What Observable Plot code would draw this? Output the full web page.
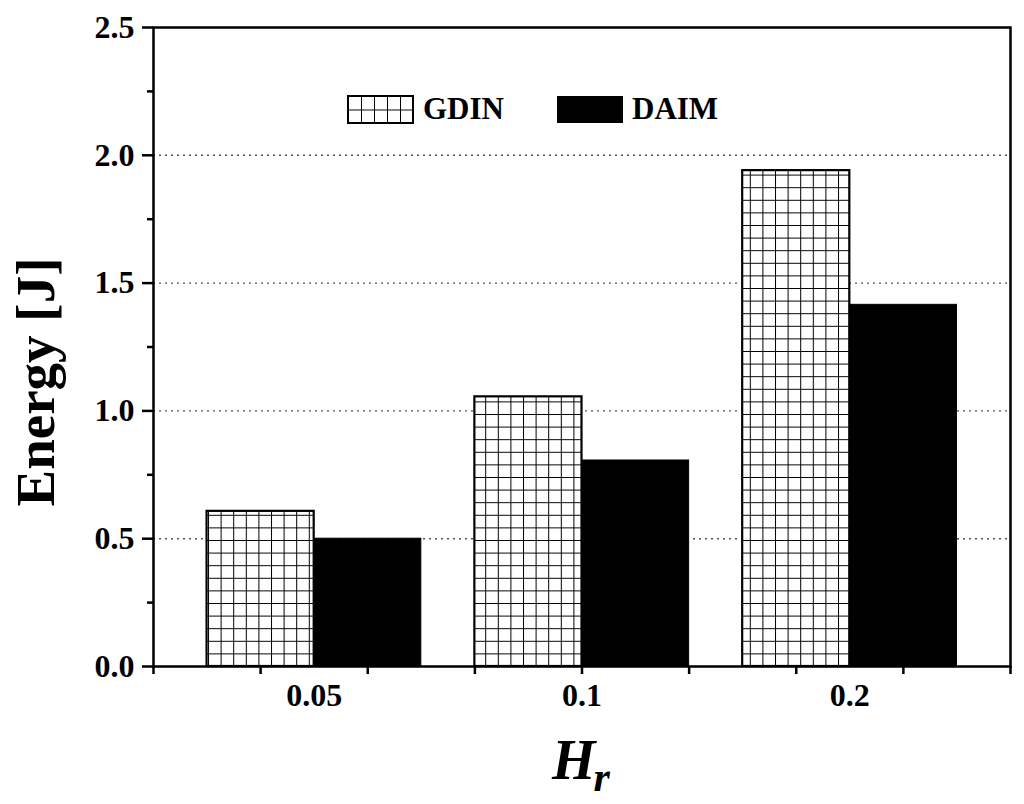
<!DOCTYPE html>
<html>
<head>
<meta charset="utf-8">
<script src="https://cdn.jsdelivr.net/npm/d3@7"></script>
<script src="https://cdn.jsdelivr.net/npm/@observablehq/plot@0.6"></script>
<style>
  html, body { margin: 0; padding: 0; background: #fff; }
  #chart { width: 1024px; height: 804px; }
</style>
</head>
<body>
<div id="chart"></div>
<script>
const categories = ["0.05", "0.1", "0.2"];
const gdin = [0.607, 1.055, 1.94];
const daim = [0.50, 0.806, 1.415];
const yMajorTicks = [0, 0.5, 1.0, 1.5, 2.0, 2.5];
const yMinorTicks = [0.25, 0.75, 1.25, 1.75, 2.25];
const gridValues = [0.5, 1.0, 1.5, 2.0];
const xTicks = [0.4, 0.8, 1.2, 1.6, 2.0, 2.4, 2.8, 3.2, 3.6];
const xPositions = [1, 2, 3];

const half = 0.4;
const gdinData = categories.map((c, i) => ({cat: c, pos: xPositions[i], v: gdin[i]}));
const daimData = categories.map((c, i) => ({cat: c, pos: xPositions[i], v: daim[i]}));

const font = "'Liberation Serif', 'Times New Roman', serif";

const chart = Plot.plot({
  width: 1024,
  height: 804,
  marginLeft: 153,
  marginRight: 14,
  marginTop: 27,
  marginBottom: 138,
  style: {fontFamily: font, fontWeight: "bold", fontSize: "32px", background: "#fff", color: "#000"},
  x: {type: "linear", domain: [0.4, 3.6], axis: null},
  y: {domain: [0, 2.5], axis: null},
  marks: [
    Plot.ruleY(gridValues, {stroke: "#555", strokeWidth: 1.4, strokeDasharray: "2,4"}),
    Plot.rect(gdinData, {x1: d => d.pos - half, x2: d => d.pos, y1: 0, y2: "v", fill: "url(#gridPat)", stroke: "#000", strokeWidth: 2.2}),
    Plot.rect(daimData, {x1: d => d.pos, x2: d => d.pos + half, y1: 0, y2: "v", fill: "#000", stroke: "#000", strokeWidth: 1}),
    Plot.frame({stroke: "#000", strokeWidth: 2.5}),
    Plot.axisY({ticks: yMajorTicks, label: null, tickSize: 11, tickPadding: 8, strokeWidth: 2.5, tickFormat: d3.format(".1f"), fontSize: 32, fontWeight: "bold"}),
    Plot.axisY({ticks: yMinorTicks, label: null, tickSize: 6, strokeWidth: 2.5, tickFormat: () => ""}),
    Plot.axisX({ticks: xTicks, label: null, tickSize: 8, strokeWidth: 2.5, tickFormat: () => ""}),
    Plot.axisX({ticks: xPositions, label: null, tickSize: 0, tickPadding: 17, tickFormat: d => categories[xPositions.indexOf(d)], fontSize: 32, fontWeight: "bold"})
  ]
});

document.getElementById("chart").appendChild(chart);

const svg = d3.select(chart);
const defs = svg.insert("defs", ":first-child");
const pat = defs.append("pattern")
  .attr("id", "gridPat")
  .attr("patternUnits", "userSpaceOnUse")
  .attr("width", 12.6).attr("height", 12.6)
  .attr("x", 208).attr("y", 666);
pat.append("rect").attr("width", 12.6).attr("height", 12.6).attr("fill", "#fff");
pat.append("path").attr("d", "M0,0H12.6M0,0V12.6").attr("stroke", "#000").attr("stroke-width", 2).attr("fill", "none");

const lpat = defs.append("pattern")
  .attr("id", "legPat").attr("patternUnits", "userSpaceOnUse")
  .attr("width", 13).attr("height", 13.5).attr("x", 348).attr("y", 96);
lpat.append("rect").attr("width", 13).attr("height", 13.5).attr("fill", "#fff");
lpat.append("path").attr("d", "M0,0H13M0,0V13.5").attr("stroke", "#000").attr("stroke-width", 2).attr("fill", "none");

// Legend
const lg = svg.append("g").attr("text-anchor", "start");
lg.append("rect").attr("x", 348).attr("y", 96).attr("width", 65).attr("height", 27)
  .attr("fill", "url(#legPat)").attr("stroke", "#000").attr("stroke-width", 2);
lg.append("text").attr("x", 423).attr("y", 119).text("GDIN")
  .attr("text-anchor", "start")
  .attr("font-family", font).attr("font-weight", "bold").attr("font-size", 31);
lg.append("rect").attr("x", 557).attr("y", 96).attr("width", 66).attr("height", 27).attr("fill", "#000");
lg.append("text").attr("x", 632).attr("y", 119).text("DAIM")
  .attr("text-anchor", "start")
  .attr("font-family", font).attr("font-weight", "bold").attr("font-size", 31);

// Axis titles
svg.append("text")
  .attr("transform", "translate(54,382) rotate(-90)")
  .attr("text-anchor", "middle")
  .attr("font-family", font).attr("font-weight", "bold").attr("font-size", 55)
  .text("Energy [J]");

const xt = svg.append("text")
  .attr("x", 552).attr("y", 779)
  .attr("text-anchor", "start")
  .attr("font-family", font).attr("font-weight", "bold").attr("font-style", "italic").attr("font-size", 56);
xt.append("tspan").text("H");
xt.append("tspan").attr("font-size", 42).attr("dx", -2).attr("dy", 12).text("r");
</script>
</body>
</html>
